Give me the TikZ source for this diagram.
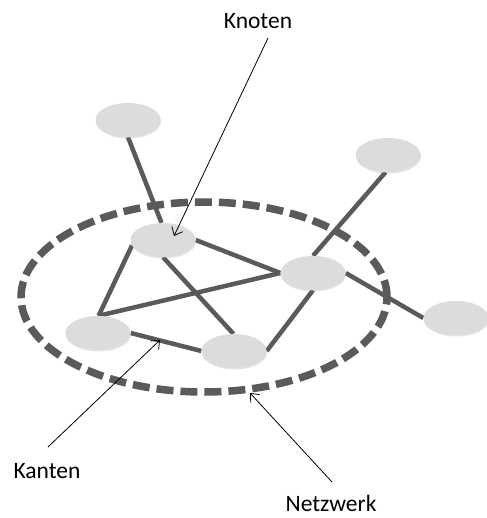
\documentclass[tikz,border=0pt]{standalone}
\usepackage{fontspec}
\setmainfont{Carlito}
\usetikzlibrary{shapes.geometric,arrows.meta,shadows}
\definecolor{edgegray}{HTML}{5A5A5A}
\definecolor{nodegray}{HTML}{DCDCDC}
\begin{document}
\begin{tikzpicture}[x=1pt,y=-1pt,
  netnode/.style={ellipse,fill=nodegray,draw=none,minimum width=65pt,minimum height=34pt,inner sep=0pt,
    drop shadow={shadow xshift=0.5pt,shadow yshift=-1.5pt,fill=gray!60,opacity=0.35}},
  netedge/.style={draw=edgegray,line width=4.5pt},
  netring/.style={draw=edgegray,line width=7.5pt,dash pattern=on 17pt off 7pt},
  label/.style={font=\fontsize{23.5}{28}\selectfont,inner sep=0pt},
  pointer/.style={draw=black,line width=0.8pt,-{Straight Barb[length=7pt,width=12pt]}}]
\useasboundingbox (0,0) rectangle (486,518);
% network ring
\node[ellipse,netring,minimum width=366pt,minimum height=190pt,inner sep=0pt] (ring) at (204,297) {};
% node shapes placed invisibly first so that edges can use their anchors
\begin{scope}[every node/.style={ellipse,minimum width=65pt,minimum height=34pt,inner sep=0pt}]
\node (A) at (128,120) {};
\node (B) at (388,155) {};
\node (C) at (456,318) {};
\node (D) at (163,240) {};
\node (E) at (313,273) {};
\node (F) at (98,333) {};
\node (G) at (234,351) {};
\end{scope}
% edges
\draw[netedge] (A.270) -- (D.95);
\draw[netedge] (D.0) -- (E.180);
\draw[netedge] (D.190) -- (F.88);
\draw[netedge] (D.270) -- (G.92);
\draw[netedge] (F.88) -- (E.180);
\draw[netedge] (F.0) -- (G.180);
\draw[netedge] (E.270) -- (G.0);
\draw[netedge] (E.90) -- (B.262);
\draw[netedge] (E.0) -- (C.180);
% visible nodes on top
\node[netnode] (nA) at (A) {};
\node[netnode] (nB) at (B) {};
\node[netnode] (nC) at (C) {};
\node[netnode] (nD) at (D) {};
\node[netnode] (nE) at (E) {};
\node[netnode] (nF) at (F) {};
\node[netnode] (nG) at (G) {};
% labels
\node[label] (knoten) at (258,21) {Knoten};
\node[label] (kanten) at (47,471) {Kanten};
\node[label] (netzwerk) at (331,503) {Netzwerk};
\coordinate (kantenTip) at (160,340);
\coordinate (netzTip) at (250,393);
\coordinate (knotenTip) at (174,236);
\coordinate (knotenStart) at (268,38);
\coordinate (kantenStart) at (48,447);
\coordinate (netzStart) at (332,482);
\draw[pointer] (knotenStart) -- (knotenTip);
\draw[pointer] (kantenStart) -- (kantenTip);
\draw[pointer] (netzStart) -- (netzTip);
\end{tikzpicture}
\end{document}
